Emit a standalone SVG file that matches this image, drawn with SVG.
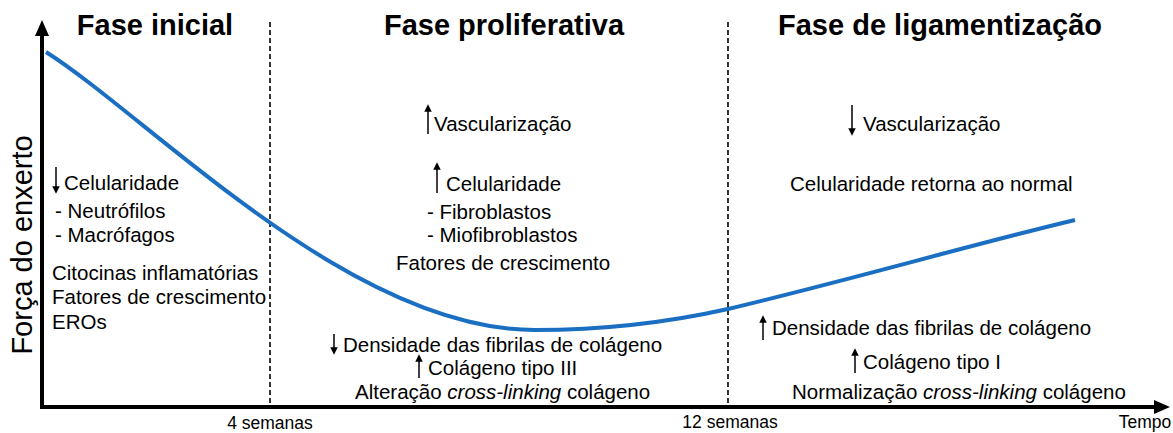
<svg xmlns="http://www.w3.org/2000/svg" width="1173" height="433" viewBox="0 0 1173 433">
<style>
text{font-family:"Liberation Sans",Arial,sans-serif;fill:#000}
.h{font-size:29px;font-weight:bold}
.t{font-size:20.5px}
.s{font-size:17.5px}
.ax{stroke:#000;stroke-width:4;fill:none}
.dash{stroke:#000;stroke-width:1.6;stroke-dasharray:5,3;fill:none}
.ar{stroke:#000;stroke-width:1.5;fill:none}
</style>
<defs>
<marker id="ah" viewBox="0 0 10 10" refX="5" refY="5" markerWidth="5" markerHeight="5" orient="auto-start-reverse"><path d="M0,0 L10,5 L0,10 z" fill="#000"/></marker>
</defs>
<rect width="1173" height="433" fill="#fff"/>
<g id="connectors">
<line class="dash" x1="270" y1="22" x2="270" y2="405"/>
<line class="dash" x1="728" y1="22" x2="728" y2="405"/>
<path id="curve" d="M46,52 C150,118 350,330 535,330 C600,330 670,322 728,309 C850,280 970,245 1075,220" stroke="#1b6fc2" stroke-width="4" fill="none"/>
<line class="ax" x1="42" y1="409" x2="42" y2="34"/>
<path d="M42,20 L35,36 L49,36 z" fill="#000"/>
<line class="ax" x1="40" y1="407" x2="1155" y2="407"/>
<path d="M1170,407 L1154,400 L1154,414 z" fill="#000"/>
</g>
<g id="axis-labels">
<text transform="translate(32,245) rotate(-90)" text-anchor="middle" style="font-size:29px">Força do enxerto</text>
<text class="s" x="270" y="429" text-anchor="middle">4 semanas</text>
<text class="s" x="730" y="428" text-anchor="middle">12 semanas</text>
<text class="s" x="1145" y="428" text-anchor="middle">Tempo</text>
</g>
<g id="fase-inicial">
<text class="h" x="155" y="35" text-anchor="middle">Fase inicial</text>
<line class="ar" x1="56" y1="167" x2="56" y2="190" marker-end="url(#ah)"/>
<text class="t" x="64" y="190">Celularidade</text>
<text class="t" x="55" y="218">- Neutrófilos</text>
<text class="t" x="55" y="242">- Macrófagos</text>
<text class="t" x="52" y="280">Citocinas inflamatórias</text>
<text class="t" x="52" y="304">Fatores de crescimento</text>
<text class="t" x="52" y="329">EROs</text>
</g>
<g id="fase-proliferativa">
<text class="h" x="504" y="35" text-anchor="middle">Fase proliferativa</text>
<line class="ar" x1="428" y1="134" x2="428" y2="108" marker-end="url(#ah)"/>
<text class="t" x="434" y="131">Vascularização</text>
<line class="ar" x1="437" y1="193" x2="437" y2="166" marker-end="url(#ah)"/>
<text class="t" x="446" y="191">Celularidade</text>
<text class="t" x="427" y="219">- Fibroblastos</text>
<text class="t" x="427" y="242">- Miofibroblastos</text>
<text class="t" x="396" y="270">Fatores de crescimento</text>
<line class="ar" x1="334" y1="334" x2="334" y2="351" marker-end="url(#ah)"/>
<text class="t" x="343" y="352">Densidade das fibrilas de colágeno</text>
<line class="ar" x1="419" y1="378" x2="419" y2="358" marker-end="url(#ah)"/>
<text class="t" x="428" y="375">Colágeno tipo III</text>
<text class="t" x="355" y="399">Alteração <tspan font-style="italic">cross-linking</tspan> colágeno</text>
</g>
<g id="fase-ligamentizacao">
<text class="h" x="940" y="35" text-anchor="middle">Fase de ligamentização</text>
<line class="ar" x1="852" y1="105" x2="852" y2="132" marker-end="url(#ah)"/>
<text class="t" x="863" y="131">Vascularização</text>
<text class="t" x="790" y="191">Celularidade retorna ao normal</text>
<line class="ar" x1="763" y1="340" x2="763" y2="319" marker-end="url(#ah)"/>
<text class="t" x="772" y="335">Densidade das fibrilas de colágeno</text>
<line class="ar" x1="855" y1="373" x2="855" y2="352" marker-end="url(#ah)"/>
<text class="t" x="863" y="369">Colágeno tipo I</text>
<text class="t" x="792" y="399">Normalização <tspan font-style="italic">cross-linking</tspan> colágeno</text>
</g>
</svg>
